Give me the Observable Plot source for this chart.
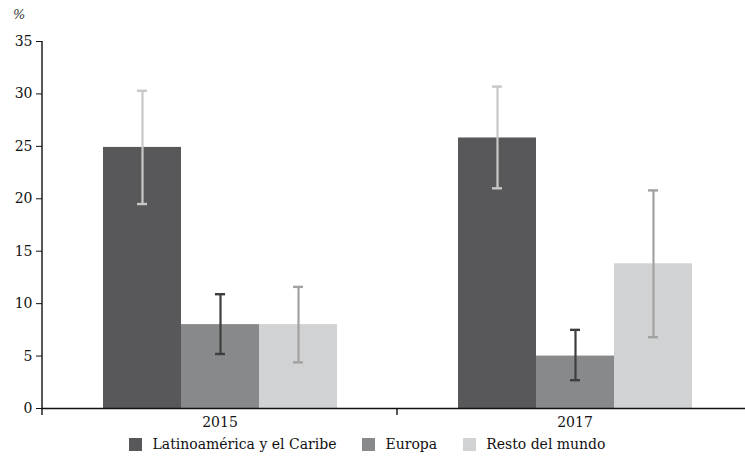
<!DOCTYPE html>
<html>
<head>
<meta charset="utf-8">
<script src="https://cdn.jsdelivr.net/npm/d3@7"></script>
<script src="https://cdn.jsdelivr.net/npm/@observablehq/plot@0.6"></script>
<style>
  html, body { margin: 0; padding: 0; background: #fff; overflow: hidden; }
  body { font-family: "DejaVu Serif", serif; color: #111; }
  #wrap { position: relative; width: 745px; height: 461px; }
  #unit { position: absolute; left: 13px; top: 7px; font-size: 13px; font-style: italic; color: #333; }
  #legend { position: absolute; left: 0; top: 436px; width: 745px; display: flex; justify-content: center; gap: 26px; font-size: 14px; padding-right: 10px; box-sizing: border-box; }
  #legend .item { display: flex; align-items: center; gap: 10px; }
  #legend .sw { width: 13px; height: 13px; display: inline-block; }
</style>
</head>
<body>
<div id="wrap">
  <div id="unit">%</div>
  <div id="chart"></div>
  <div id="legend"></div>
</div>
<script>
// Survey years and regions
const years = ["2015", "2017"];
const regions = ["Latinoamérica y el Caribe", "Europa", "Resto del mundo"];

// Share (%) per region, one array per year, plus the lower/upper interval bounds
const values2015 = [24.9, 8.0, 8.0];
const low2015    = [19.5, 5.2, 4.4];
const high2015   = [30.3, 10.9, 11.6];
const values2017 = [25.8, 5.0, 13.8];
const low2017    = [21.0, 2.7, 6.8];
const high2017   = [30.7, 7.5, 20.8];

const yTicks = [0, 5, 10, 15, 20, 25, 30, 35];

const barColors = ["#58585a", "#88898b", "#d1d2d3"];
const errColors = ["#c8c8c8", "#3e3e3e", "#a2a2a2"];

const rows = [];
[[values2015, low2015, high2015], [values2017, low2017, high2017]].forEach(([v, lo, hi], i) => {
  regions.forEach((r, j) => rows.push({year: years[i], region: r, value: v[j], lo: lo[j], hi: hi[j]}));
});

const chart = Plot.plot({
  width: 745,
  height: 434,
  marginTop: 41,
  marginLeft: 42,
  marginRight: -7,
  marginBottom: 26,
  style: {fontFamily: "'DejaVu Serif', serif", fontSize: "14px", color: "#111", background: "transparent", overflow: "visible"},
  fx: {domain: years, padding: 0, label: null, tickSize: 0, tickPadding: 9},
  x: {domain: regions, paddingInner: 0, paddingOuter: 0.755, axis: null},
  y: {domain: [0, 35], ticks: yTicks, tickSize: 6, tickPadding: 4, label: null},
  color: {domain: regions, range: barColors},
  marks: [
    Plot.barY(rows, {fx: "year", x: "region", y: "value", fill: "region"}),
    Plot.ruleX(rows, {fx: "year", x: "region", y1: "lo", y2: "hi",
      stroke: d => errColors[regions.indexOf(d.region)], strokeWidth: 2.2}),
    Plot.tickY(rows, {fx: "year", x: "region", y: "lo", inset: 34,
      stroke: d => errColors[regions.indexOf(d.region)], strokeWidth: 2.4}),
    Plot.tickY(rows, {fx: "year", x: "region", y: "hi", inset: 34,
      stroke: d => errColors[regions.indexOf(d.region)], strokeWidth: 2.4}),
    Plot.ruleY([0], {stroke: "#111", strokeWidth: 1.4})
  ]
});

// Axis line on the left and small ticks at the boundaries between year groups
const fx = chart.scale("fx");
const y = chart.scale("y");
const svg = d3.select(chart);
const y0 = y.apply(0);
svg.append("line")
  .attr("x1", fx.apply(years[0])).attr("x2", fx.apply(years[0]))
  .attr("y1", y.apply(35)).attr("y2", y0 + 7)
  .attr("stroke", "#111").attr("stroke-width", 1.4);
years.slice(1).forEach(yr => {
  svg.append("line")
    .attr("x1", fx.apply(yr)).attr("x2", fx.apply(yr))
    .attr("y1", y0).attr("y2", y0 + 7)
    .attr("stroke", "#111").attr("stroke-width", 1.4);
});

document.getElementById("chart").appendChild(chart);

// Legend
const legend = d3.select("#legend");
regions.forEach((r, i) => {
  const item = legend.append("div").attr("class", "item");
  item.append("span").attr("class", "sw").style("background", barColors[i]);
  item.append("span").text(r);
});
</script>
</body>
</html>
